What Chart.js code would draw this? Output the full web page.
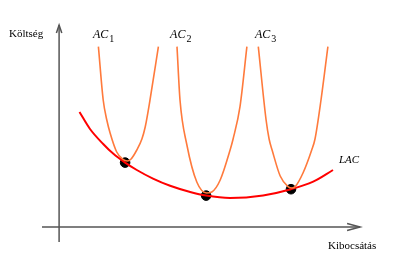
<!DOCTYPE html>
<html>
<head>
<meta charset="utf-8">
<script src="https://cdn.jsdelivr.net/npm/chart.js@4.4.0/dist/chart.umd.min.js"></script>
<style>
  html, body { margin: 0; padding: 0; background: #fff; }
  #wrap { width: 400px; height: 275px; }
</style>
</head>
<body>
<div id="wrap"><canvas id="costChart"></canvas></div>
<script>
// long-run average cost envelope (output, cost)
const lacX = [0.68, 1.03, 1.47, 1.80, 2.20, 2.59, 3.13, 3.70, 4.37, 4.90, 5.70, 6.80, 7.73, 8.47, 9.13];
const lacY = [5.75, 4.90, 4.15, 3.67, 3.22, 2.85, 2.42, 2.06, 1.75, 1.57, 1.45, 1.58, 1.89, 2.27, 2.85];

// short-run average cost curves
const ac1X = [1.31, 1.47, 1.59, 1.70, 1.92, 2.13, 2.27, 2.40, 2.59, 2.76, 2.87, 3.03, 3.31];
const ac1Y = [9.02, 6.35, 5.35, 4.70, 3.75, 3.38, 3.30, 3.40, 3.85, 4.40, 5.00, 6.35, 9.02];
const ac2X = [3.93, 4.03, 4.26, 4.59, 4.92, 5.09, 5.37, 5.70, 5.80, 6.03, 6.26];
const ac2Y = [9.02, 6.35, 4.10, 2.25, 1.70, 1.75, 2.35, 3.85, 4.40, 6.02, 9.02];
const ac3X = [6.64, 6.90, 7.00, 7.10, 7.37, 7.63, 7.77, 7.87, 8.13, 8.42, 8.53, 8.73, 8.96];
const ac3Y = [9.02, 5.35, 4.40, 3.85, 2.55, 2.02, 1.95, 2.02, 2.70, 3.85, 4.40, 6.35, 9.02];

// tangency points
const tangX = [2.20, 4.90, 7.73];
const tangY = [3.22, 1.57, 1.89];

const curveLabels = ["AC", "AC", "AC"];
const curveSubs = ["1", "2", "3"];
const curveLabelX = [1.13, 3.70, 6.53];
const axisLabels = ["Költség", "Kibocsátás", "LAC"];

const pts = (xs, ys) => xs.map((x, i) => ({ x: x, y: ys[i] }));

const orange = "#ff7a3c";
const axisColor = "#555555";

function curve(xs, ys, color, width) {
    return {
        data: pts(xs, ys),
        showLine: true,
        borderColor: color,
        borderWidth: width,
        pointRadius: 0,
        cubicInterpolationMode: "monotone",
        clip: false
    };
}

function axisLine(data) {
    return {
        data: data,
        showLine: true,
        borderColor: axisColor,
        borderWidth: 1.5,
        pointRadius: 0,
        tension: 0,
        clip: false
    };
}

const textPlugin = {
    id: "textLabels",
    afterDatasetsDraw(chart) {
        const { ctx, scales } = chart;
        const xs = scales.x;
        ctx.save();
        ctx.fillStyle = "#000";
        ctx.textBaseline = "alphabetic";
        ctx.textAlign = "left";

        ctx.font = "11px 'Liberation Serif', serif";
        ctx.fillText(axisLabels[0], 9, 37);
        ctx.fillText(axisLabels[1], 328, 249);

        curveLabels.forEach((lab, i) => {
            const px = xs.getPixelForValue(curveLabelX[i]);
            ctx.font = "italic 12px 'Liberation Serif', serif";
            ctx.fillText(lab, px, 38);
            const w = ctx.measureText(lab).width;
            ctx.font = "10px 'Liberation Serif', serif";
            ctx.fillText(curveSubs[i], px + w + 1, 42);
        });

        ctx.font = "italic 11px 'Liberation Serif', serif";
        ctx.fillText(axisLabels[2], 339, 163);
        ctx.restore();
    }
};

new Chart(document.getElementById("costChart"), {
    type: "scatter",
    data: {
        datasets: [
            axisLine([{ x: -0.57, y: 0 }, { x: 10.03, y: 0 }]),
            axisLine([{ x: 9.6, y: 0.17 }, { x: 10.03, y: 0 }, { x: 9.6, y: -0.17 }]),
            axisLine([{ x: 0, y: -0.75 }, { x: 0, y: 10.1 }]),
            axisLine([{ x: -0.09, y: 9.7 }, { x: 0, y: 10.1 }, { x: 0.09, y: 9.7 }]),
            curve(ac1X, ac1Y, orange, 1.6),
            curve(ac2X, ac2Y, orange, 1.6),
            curve(ac3X, ac3Y, orange, 1.6),
            curve(lacX, lacY, "#ff0000", 2),
            {
                data: pts(tangX, tangY),
                showLine: false,
                pointRadius: 4.8,
                pointBackgroundColor: "#000",
                pointBorderColor: "#000",
                clip: false
            }
        ]
    },
    options: {
        responsive: true,
        maintainAspectRatio: false,
        animation: false,
        layout: { padding: { left: 42, right: 40, top: 25, bottom: 33 } },
        plugins: {
            legend: { display: false },
            tooltip: { enabled: false }
        },
        scales: {
            x: { type: "linear", min: -0.57, max: 10.03, display: false },
            y: { type: "linear", min: -0.75, max: 10.1, display: false }
        }
    },
    plugins: [textPlugin]
});
</script>
</body>
</html>
